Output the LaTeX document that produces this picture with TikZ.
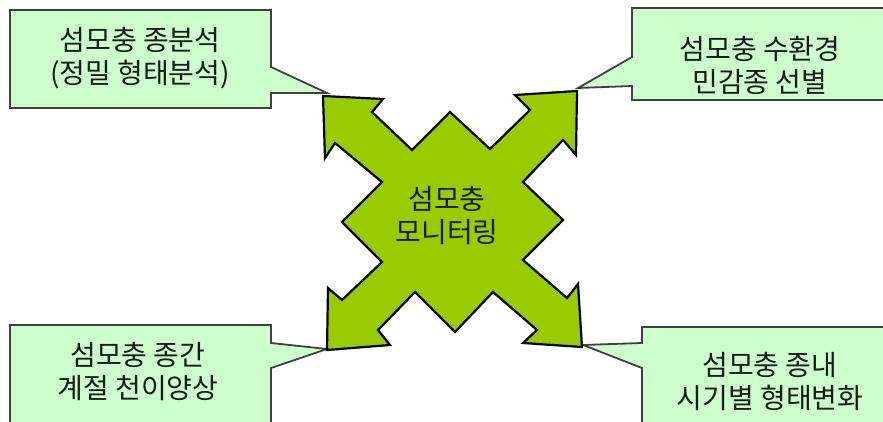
\documentclass[tikz,border=0pt]{standalone}
\usepackage{fontspec}
\newfontfamily\kr{Noto Sans CJK KR}
\definecolor{boxfill}{HTML}{CCFFCC}
\definecolor{boxline}{HTML}{404040}
\definecolor{arrowfill}{HTML}{99CC00}
\definecolor{txt}{HTML}{1A1A1A}
\begin{document}
\begin{tikzpicture}[x=1pt,y=-1pt,
  callout/.style={fill=boxfill,draw=boxline,line width=1.8pt,line join=miter},
  bigarrow/.style={fill=arrowfill,draw=black,line width=2.2pt,line join=miter},
  label/.style={font=\kr\fontsize{28}{33}\selectfont,text=txt,align=center,inner sep=0pt}]
\useasboundingbox (0,0) rectangle (883,422);
\begin{scope}
\clip (0,0) rectangle (883,422);
% callout boxes
\draw[callout] (10,10) -- (271,10) -- (271,67) -- (327,93) -- (271,93) -- (271,108) -- (10,108) -- cycle;
\draw[callout] (632,8) -- (895,8) -- (895,100) -- (632,100) -- (632,86) -- (578,88) -- (632,57) -- cycle;
\draw[callout] (10,325) -- (271,325) -- (271,343) -- (327,349) -- (271,368) -- (271,435) -- (10,435) -- cycle;
\draw[callout] (642,327) -- (895,327) -- (895,435) -- (642,435) -- (642,368) -- (583,345) -- (642,343) -- cycle;
% central four-way arrow
\draw[bigarrow] (323,96) -- (383,99) -- (372,112) -- (412,150) -- (450,112) -- (490,149)
  -- (530,110) -- (515,95) -- (577,91) -- (576,155) -- (563,140) -- (523,182)
  -- (563,220) -- (523,260) -- (567,298) -- (578,284) -- (582,347) -- (523,343)
  -- (537,330) -- (493,292) -- (455,332) -- (415,292) -- (378,330) -- (390,345)
  -- (327,350) -- (328,288) -- (342,300) -- (382,262) -- (342,222) -- (382,182)
  -- (335,143) -- (325,158) -- cycle;
\end{scope}
% texts
\node[label] (tl) at (140,58) {섬모충 종분석\\(정밀 형태분석)};
\node[label] (tr) at (760,65) {섬모충 수환경\\민감종 선별};
\node[label] (bl) at (138,371) {섬모충 종간\\계절 천이양상};
\node[label] (br) at (770,381) {섬모충 종내\\시기별 형태변화};
\node[label] (c) at (447,215) {섬모충\\모니터링};
\end{tikzpicture}
\end{document}
